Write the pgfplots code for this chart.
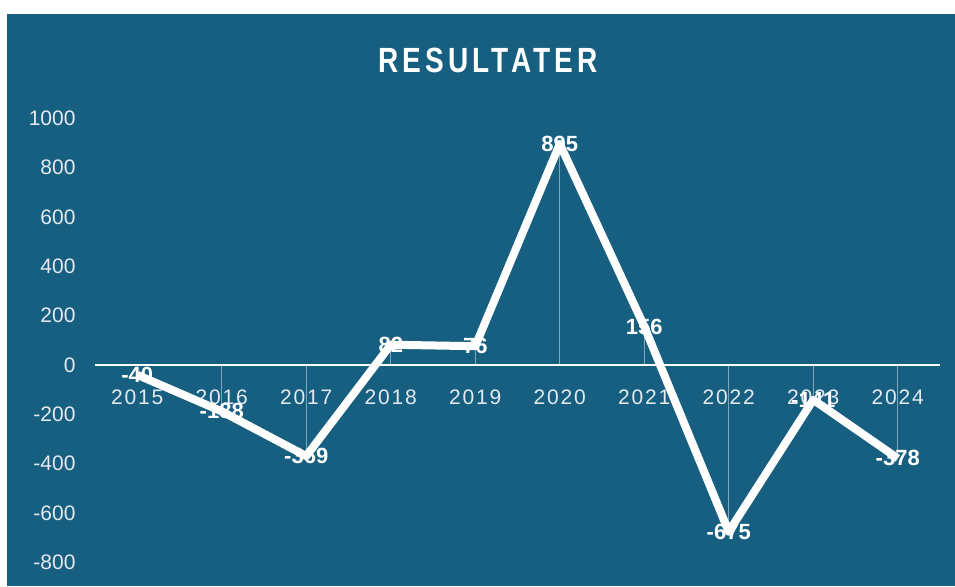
\documentclass[border=0pt]{standalone}
\usepackage{fontspec}
\setmainfont{Liberation Sans}
\usepackage{graphicx}
\usepackage{pgfplots}
\pgfplotsset{compat=1.18}
\definecolor{bg}{RGB}{22,95,128}
\definecolor{lbl}{RGB}{228,234,240}
\newfontfamily\spacedfont[LetterSpace=9]{Liberation Sans}
\pgfplotstableread{
x y
0 -40
1 -188
2 -369
3 82
4 76
5 895
6 156
7 -675
8 -141
9 -378
}\resdata
\begin{document}
\begin{tikzpicture}[x=1pt,y=1pt]
\useasboundingbox (0,0) rectangle (955,586);
\fill[white] (0,0) rectangle (955,586);
\fill[bg] (7,0) rectangle (955,572);
\node[white] at (488,525.5) {\scalebox{0.80}[1]{\fontsize{35}{40}\selectfont\bfseries\addfontfeature{LetterSpace=15}RESULTATER}};
\begin{axis}[
  at={(95pt,0pt)}, anchor=south west,
  scale only axis, width=845pt, height=468pt,
  xmin=-0.5, xmax=9.5, ymin=-895, ymax=1000,
  axis x line=middle, axis y line=left,
  y axis line style={draw=none},
  x axis line style={white, line width=1.5pt, -},
  xtick={0,...,9},
  xticklabels={2015,2016,2017,2018,2019,2020,2021,2022,2023,2024},
  ytick={-800,-600,...,1000},
  major tick length=0pt,
  /pgf/number format/assume math mode=true,
  /pgf/number format/set thousands separator={},
  xticklabel style={font=\spacedfont\fontsize{21}{24}\selectfont, text=lbl, yshift=-21pt},
  yticklabel style={font=\fontsize{21}{24}\selectfont, text=lbl, xshift=-16pt},
  clip=false,
]
\addplot[white, opacity=0.45, line width=1pt, ycomb, forget plot] table {\resdata};
\addplot[white, line width=8pt, line join=round, mark=none,
  nodes near coords={\pgfmathprintnumber[assume math mode=true,int detect]{\pgfplotspointmeta}},
  every node near coord/.append style={anchor=center, font=\bfseries\fontsize{22}{24}\selectfont, text=white, inner sep=0pt}]
  table {\resdata};
\end{axis}
\end{tikzpicture}
\end{document}
